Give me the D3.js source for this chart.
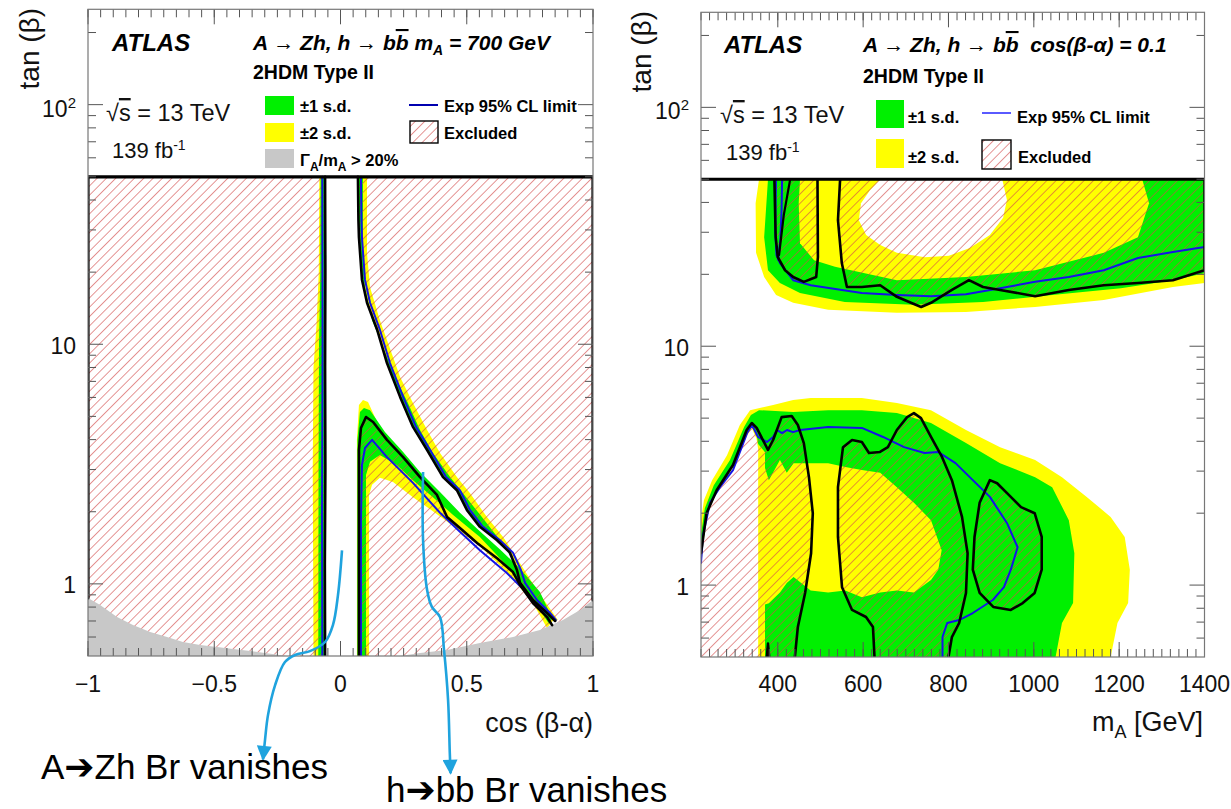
<!DOCTYPE html>
<html>
<head>
<meta charset="utf-8">
<script src="https://cdn.jsdelivr.net/npm/d3@7"></script>
<style>
  body { margin: 0; background: #fff; }
</style>
</head>
<body>
<script>
var svgWidth = 1231;
var svgHeight = 809;

// Axis ticks
var cosTicks = [-1, -0.5, 0, 0.5, 1];
var cosTickLabels = ["\u22121", "\u22120.5", "0", "0.5", "1"];
var massTicks = [400, 600, 800, 1000, 1200, 1400];
var massTickLabels = ["400", "600", "800", "1000", "1200", "1400"];
var tanTicks = [1, 10, 100];
var tanTickLabels = ["1", "10", "10^2"];
var tanMinorTicks = [0.6, 0.7, 0.8, 0.9, 2, 3, 4, 5, 6, 7, 8, 9, 20, 30, 40, 50, 60, 70, 80, 90, 200];

// ===== Left panel: [cos(beta-alpha), tan(beta)], mA = 700 GeV =====
var chanObs = [[-0.061, 0.5], [-0.062, 1.2], [-0.060, 3], [-0.061, 8], [-0.060, 20], [-0.061, 50]];
var chanExp = [[-0.072, 0.5], [-0.073, 2], [-0.071, 10], [-0.072, 50]];
var chanYellow = [[-0.084, 50], [-0.086, 20], [-0.095, 12], [-0.107, 8], [-0.110, 3], [-0.108, 1], [-0.107, 0.5], [-0.060, 0.5], [-0.060, 50]];
var chanGreen = [[-0.079, 50], [-0.080, 20], [-0.085, 10], [-0.087, 3], [-0.088, 0.5], [-0.060, 0.5], [-0.060, 50]];

var upperObs = [[0.069, 50], [0.071, 33.0], [0.073, 28.0], [0.085, 18.6], [0.105, 14.9], [0.145, 11.5], [0.184, 8.35], [0.236, 6.03], [0.287, 4.52], [0.343, 3.62], [0.406, 2.79], [0.461, 2.46], [0.501, 2.03], [0.552, 1.73], [0.620, 1.52], [0.671, 1.35], [0.699, 1.14], [0.711, 1.01], [0.762, 0.856], [0.818, 0.756], [0.850, 0.70]];
var upperExp = [[0.081, 50], [0.083, 33], [0.085, 28], [0.097, 18.6], [0.117, 14.9], [0.156, 11.5], [0.196, 8.35], [0.248, 6.03], [0.299, 4.52], [0.355, 3.62], [0.418, 2.79], [0.473, 2.46], [0.513, 2.03], [0.564, 1.73], [0.632, 1.52], [0.683, 1.35], [0.715, 1.14], [0.731, 1.01], [0.778, 0.856], [0.830, 0.756], [0.853, 0.707]];
var upperYellowEdge = [[0.105, 50], [0.105, 24.0], [0.117, 17.3], [0.156, 12.6], [0.208, 8.85], [0.236, 7.3], [0.287, 5.69], [0.343, 4.39], [0.394, 3.52], [0.461, 2.79], [0.513, 2.39], [0.580, 1.90], [0.644, 1.57], [0.711, 1.22], [0.778, 0.943], [0.861, 0.707]];
var upperGreenEdge = [[0.089, 50], [0.089, 24.0], [0.097, 17.3], [0.125, 12.6], [0.184, 8.85], [0.216, 7.3], [0.267, 5.69], [0.315, 4.39], [0.366, 3.52], [0.434, 2.79], [0.485, 2.39], [0.560, 1.90], [0.632, 1.52], [0.691, 1.22], [0.758, 0.943], [0.842, 0.707]];

var lambdaObs = [[0.073, 0.5], [0.073, 1.52], [0.073, 3.62], [0.081, 4.47], [0.101, 4.97], [0.129, 4.74], [0.184, 3.99], [0.248, 3.38], [0.315, 2.79], [0.382, 2.35], [0.422, 1.90], [0.473, 1.71], [0.541, 1.48], [0.620, 1.28], [0.683, 1.12], [0.711, 0.99], [0.762, 0.832], [0.818, 0.727], [0.838, 0.673]];
var lambdaExp = [[0.081, 0.5], [0.081, 1.85], [0.085, 3.13], [0.097, 3.69], [0.125, 3.99], [0.184, 3.38], [0.287, 2.64], [0.394, 1.98], [0.473, 1.65], [0.552, 1.38], [0.659, 1.11], [0.739, 0.916], [0.818, 0.727]];
var lambdaYellow = [[0.065, 0.5], [0.065, 3.99], [0.073, 5.58], [0.089, 5.85], [0.109, 5.74], [0.156, 4.47], [0.236, 3.45], [0.315, 2.77], [0.394, 2.28], [0.473, 1.88], [0.552, 1.58], [0.632, 1.35], [0.711, 1.12], [0.790, 0.898], [0.850, 0.721], [0.818, 0.654], [0.762, 0.832], [0.659, 1.12], [0.552, 1.44], [0.446, 1.744], [0.355, 2.05], [0.287, 2.30], [0.208, 2.66], [0.156, 2.77], [0.125, 2.59], [0.113, 2.35], [0.113, 0.5]];
var lambdaGreen = [[0.067, 0.5], [0.067, 3.99], [0.077, 5.21], [0.093, 5.42], [0.117, 5.31], [0.176, 4.30], [0.248, 3.55], [0.315, 2.93], [0.394, 2.42], [0.473, 1.98], [0.552, 1.66], [0.632, 1.39], [0.711, 1.16], [0.790, 0.925], [0.838, 0.721], [0.826, 0.680], [0.762, 0.864], [0.659, 1.19], [0.552, 1.57], [0.446, 1.94], [0.366, 2.30], [0.287, 2.71], [0.224, 3.13], [0.156, 3.45], [0.117, 3.23], [0.101, 2.85], [0.101, 0.5]];

var widthLimitLeft = [[-1, 0.873], [-0.952, 0.816], [-0.885, 0.727], [-0.822, 0.673], [-0.754, 0.630], [-0.687, 0.600], [-0.624, 0.572], [-0.556, 0.556], [-0.489, 0.545], [-0.426, 0.535], [-0.358, 0.525], [-0.212, 0.5]];
var widthLimitRight = [[0.236, 0.5], [0.315, 0.515], [0.422, 0.530], [0.552, 0.567], [0.683, 0.600], [0.790, 0.642], [0.881, 0.707], [0.949, 0.778], [1, 0.857]];
var edgeObsLeft = [[-1, 0.873], [-1, 50], [1, 50], [1, 0.857]];

// annotation arrows (in left panel coordinates)
var arrowAZh = [[0.006, 1.38], [-0.010, 0.898], [-0.030, 0.673], [-0.061, 0.572], [-0.121, 0.524], [-0.180, 0.505], [-0.220, 0.472], [-0.259, 0.378], [-0.287, 0.284], [-0.299, 0.223], [-0.307, 0.185]];
var arrowHbb = [[0.327, 2.93], [0.327, 1.52], [0.343, 0.943], [0.362, 0.801], [0.394, 0.727], [0.410, 0.529], [0.426, 0.328], [0.433, 0.195], [0.436, 0.162]];

// ===== Right panel: [mA (GeV), tan(beta)], cos(beta-alpha) = 0.1 =====
var upYellow = [[356, 50], [348, 39.7], [349, 24.6], [368, 19.5], [396, 16.4], [436, 15.2], [518, 14.2], [679, 13.8], [841, 13.9], [1003, 14.6], [1164, 15.6], [1326, 17.7], [1400, 18.4], [1400, 50]];
var upGreen = [[377, 50], [368, 28.6], [377, 20.8], [405, 18.4], [452, 16.7], [557, 15.3], [719, 14.9], [881, 15.3], [1043, 16.4], [1204, 17.5], [1326, 18.9], [1400, 20.2], [1400, 50]];
var upInnerYellow = [[452, 50], [449, 39.7], [452, 27], [485, 22.9], [534, 21.5], [679, 18.9], [841, 19.5], [1003, 20.8], [1164, 24.6], [1244, 28.6], [1270, 39.7], [1254, 50]];
var upHole = [[640, 50], [616, 45], [595, 39.7], [590, 33.7], [607, 29.2], [640, 26.5], [679, 24.6], [745, 23.6], [801, 23.9], [850, 25.8], [897, 29.2], [928, 34.5], [937, 40.9], [926, 50]];
var upExp = [[396, 50], [395, 40], [394, 30], [397, 24], [405, 22.3], [436, 18.9], [477, 18.0], [597, 16.7], [679, 16.4], [759, 16.2], [841, 16.5], [921, 17.5], [1003, 18.6], [1082, 19.5], [1164, 20.8], [1244, 23.4], [1326, 24.8], [1400, 26.0]];
var upExpLoop = [[410, 50], [409, 38], [406, 28], [401, 23]];
var upObsA = [[392, 50], [395, 28.6], [400, 23.6], [417, 20.8], [436, 19.5], [461, 18.6], [490, 19.5], [494, 23.6], [493, 50]];
var upObsB = [[429, 50], [414, 35.4], [403, 24.1]];
var upObsC = [[546, 50], [541, 33.7], [550, 22.3], [562, 17.7], [597, 17.7], [640, 18.0], [679, 16.1], [712, 15.2], [736, 14.6], [759, 15.2], [808, 17.2], [848, 18.9], [881, 17.7], [921, 17.2], [1003, 16.2], [1082, 17.2], [1164, 18.0], [1244, 18.4], [1326, 18.9], [1400, 20.8], [1400, 50]];

var lowYellow = [[220, 1.87], [227, 2.27], [246, 2.75], [281, 3.50], [311, 4.68], [335, 5.4], [389, 5.67], [436, 5.95], [477, 6.07], [597, 6.07], [679, 5.78], [759, 5.4], [841, 4.46], [921, 3.78], [1003, 3.34], [1066, 2.83], [1124, 2.34], [1180, 1.93], [1213, 1.59], [1225, 1.16], [1221, 0.841], [1196, 0.694], [1180, 0.5], [354, 0.5], [354, 3.7], [350, 4.1], [339, 4.55], [327, 4.2], [295, 3.1], [257, 2.45], [233, 1.95], [220, 1.2]];
var lowGreen = [[220, 1.62], [229, 2.1], [250, 2.62], [288, 3.34], [321, 4.59], [337, 5.15], [356, 5.4], [436, 5.3], [518, 5.4], [597, 5.4], [679, 5.25], [759, 4.77], [841, 3.93], [921, 3.24], [1003, 2.83], [1043, 2.57], [1082, 1.87], [1095, 1.36], [1092, 0.841], [1066, 0.694], [1051, 0.5], [370, 0.5], [370, 3.6], [354, 3.9], [350, 4.3], [339, 4.65], [327, 4.3], [295, 3.2], [257, 2.5], [233, 2.0], [220, 1.35]];
var lowInnerYellow = [[370, 0.83], [379, 0.84], [405, 0.93], [421, 1.02], [437, 1.08], [477, 0.95], [518, 0.93], [558, 0.95], [597, 0.89], [640, 0.93], [679, 0.95], [719, 0.93], [759, 1.05], [776, 1.16], [784, 1.40], [759, 1.87], [719, 2.21], [679, 2.57], [640, 2.95], [597, 3.03], [558, 3.12], [518, 3.24], [477, 3.24], [437, 3.24], [421, 2.95], [405, 3.34], [379, 2.75], [370, 3.09]];
var lowExp = [[220, 1.24], [225, 1.62], [241, 2.21], [264.5, 2.57], [295, 3.03], [328, 4.33], [339.5, 4.68], [353.6, 4.17], [374.7, 3.97], [389, 4.17], [398, 4.46], [410, 4.33], [421.6, 4.46], [435.6, 4.37], [452, 4.46], [518, 4.59], [597, 4.55], [646.6, 4.17], [696, 3.78], [744, 3.57], [775.5, 3.61], [816.5, 3.24], [857, 2.75], [897, 2.34], [937, 1.82], [962, 1.44], [946, 1.16], [930, 0.98], [904, 0.866], [857, 0.764], [825, 0.714], [797, 0.694], [786, 0.606], [786, 0.5]];
var lowObsL1 = [[220, 1.36], [233, 2.0], [257, 2.5], [295, 3.18], [327, 4.46], [339, 4.77], [350.5, 4.55], [377, 3.68], [389, 4.05], [409, 5.05], [432.6, 5.1], [447, 4.68], [461, 3.93], [473, 2.83], [482, 2.0], [478, 1.36], [464, 0.927], [447, 0.668], [440, 0.5]];
var lowObsL2 = [[626.6, 0.5], [623, 0.668], [606.7, 0.735], [574, 0.787], [550.5, 0.98], [541, 1.59], [541, 2.57], [552.8, 3.78], [574, 4.05], [597, 3.97], [613.7, 3.57], [639.5, 3.61], [658, 3.78], [679, 4.46], [703, 5.05], [719, 5.25], [735.6, 5.0], [759, 4.17], [784.8, 3.44], [808, 2.75], [831.7, 1.93], [844.8, 1.36], [841, 0.927], [825, 0.694], [808, 0.606], [800, 0.5]];
var lowObsL3 = [[897, 2.75], [873, 2.21], [861, 1.59], [857, 1.16], [873, 0.927], [905, 0.81], [946, 0.787], [974, 0.841], [1002, 0.927], [1018.5, 1.16], [1018.5, 1.59], [1002, 2.0], [970, 2.12], [946, 2.34], [914, 2.67]];
var lowObsSpike = [[374, 0.5], [377, 0.57], [380, 0.5]];

var YELLOW = "#ffff00", GREEN = "#00f000", GRAY = "#c8c8c8", BLUE = "#1414e6", BLACK = "#000";

var svg = d3.select("body").append("svg")
  .attr("width", svgWidth)
  .attr("height", svgHeight)
  .style("font-family", "'Liberation Sans', Arial, Helvetica, sans-serif");

var defs = svg.append("defs");

// red hatching used for the excluded regions
defs.append("pattern")
  .attr("id", "hatch")
  .attr("patternUnits", "userSpaceOnUse")
  .attr("width", 6.6)
  .attr("height", 6.6)
  .attr("patternTransform", "rotate(45)")
  .append("line")
  .attr("x1", 3.3).attr("y1", 0).attr("x2", 3.3).attr("y2", 6.6)
  .attr("stroke", "#d24a4a")
  .attr("stroke-opacity", 0.65)
  .attr("stroke-width", 0.9);

defs.append("marker")
  .attr("id", "head")
  .attr("viewBox", "0 0 10 10")
  .attr("refX", 9).attr("refY", 5)
  .attr("markerUnits", "userSpaceOnUse")
  .attr("markerWidth", 17).attr("markerHeight", 15)
  .attr("orient", "auto")
  .append("path")
  .attr("d", "M0,0 L10,5 L0,10 Z")
  .attr("fill", "#1fa3de");

// Scales
var xL = d3.scaleLinear().domain([-1, 1]).range([88, 593]);
var yL = d3.scaleLog().domain([0.5, 250]).range([656, 9.3]);
var xR = d3.scaleLinear().domain([220, 1400]).range([701, 1204.5]);
var yR = d3.scaleLog().domain([0.5, 250]).range([657, 12.3]);

function lineGen(x, y, c) {
  var l = d3.line().x(d => x(d[0])).y(d => y(d[1]));
  if (c) l.curve(c);
  return l;
}
function area(g, pts, x, y, color) {
  g.append("path").attr("d", lineGen(x, y)(pts) + "Z").attr("fill", color);
}
function curve(g, pts, x, y, color, w, closed) {
  g.append("path")
    .attr("d", lineGen(x, y)(pts) + (closed ? "Z" : ""))
    .attr("fill", "none")
    .attr("stroke", color)
    .attr("stroke-width", w)
    .attr("stroke-linejoin", "round")
    .attr("stroke-linecap", "round");
}
function clipFor(id, x, y) {
  defs.append("clipPath").attr("id", id).append("rect")
    .attr("x", x.range()[0]).attr("y", y.range()[1])
    .attr("width", x.range()[1] - x.range()[0])
    .attr("height", y.range()[0] - y.range()[1]);
}

// frame with inward ticks on all four sides
function frame(g, x, y, xMajor, xMinor) {
  var x0 = x.range()[0], x1 = x.range()[1], yb = y.range()[0], yt = y.range()[1];
  var t = g.append("g").attr("stroke", "#555").attr("stroke-width", 1);
  function tick(a, b, c, d) { t.append("line").attr("x1", a).attr("y1", b).attr("x2", c).attr("y2", d); }
  xMinor.forEach(function(v) { tick(x(v), yb, x(v), yb - 8); tick(x(v), yt, x(v), yt + 8); });
  xMajor.forEach(function(v) { tick(x(v), yb, x(v), yb - 15); tick(x(v), yt, x(v), yt + 15); });
  tanMinorTicks.forEach(function(v) { tick(x0, y(v), x0 + 8, y(v)); tick(x1, y(v), x1 - 8, y(v)); });
  tanTicks.forEach(function(v) { tick(x0, y(v), x0 + 15, y(v)); tick(x1, y(v), x1 - 15, y(v)); });
  g.append("rect")
    .attr("x", x0).attr("y", yt)
    .attr("width", x1 - x0).attr("height", yb - yt)
    .attr("fill", "none").attr("stroke", "#777").attr("stroke-width", 1.2);
}

function yLabels(g, y, xPos, offs) {
  tanTicks.forEach(function(v, i) {
    var lab = tanTickLabels[i];
    var txt = g.append("text")
      .attr("x", xPos).attr("y", y(v) + offs[i])
      .attr("text-anchor", "end")
      .attr("font-size", 23).attr("fill", "#111");
    if (lab.indexOf("^") >= 0) {
      var p = lab.split("^");
      txt.append("tspan").text(p[0]);
      txt.append("tspan").attr("dy", -9).attr("font-size", 15).text(p[1]);
    } else {
      txt.text(lab);
    }
  });
}

// ============ Left panel ============
clipFor("clipL", xL, yL);
var gL = svg.append("g");
var plotL = gL.append("g").attr("clip-path", "url(#clipL)");

// Step 1: expected +-2 and +-1 sigma bands
area(plotL, chanYellow, xL, yL, YELLOW);
area(plotL, upperYellowEdge.concat(upperObs.slice().reverse()), xL, yL, YELLOW);
area(plotL, lambdaYellow, xL, yL, YELLOW);
area(plotL, chanGreen, xL, yL, GREEN);
area(plotL, upperGreenEdge.concat(upperObs.slice().reverse()), xL, yL, GREEN);
area(plotL, lambdaGreen, xL, yL, GREEN);

// Step 2: hatched excluded region = box minus the allowed channel/wedge
var allowed = chanObs
  .concat(upperObs.filter(d => d[0] <= 0.711))
  .concat(lambdaObs.filter(d => d[0] <= 0.711).reverse());
var boxL = [[-1, 0.5], [-1, 50], [1, 50], [1, 0.5]];
plotL.append("path")
  .attr("d", lineGen(xL, yL)(boxL) + "Z" + lineGen(xL, yL)(allowed) + "Z")
  .attr("fill", "url(#hatch)")
  .attr("fill-rule", "evenodd");

// Step 3: width limit region
area(plotL, [[-1, 0.5]].concat(widthLimitLeft, widthLimitRight, [[1, 0.5]]), xL, yL, GRAY);

// Step 4: expected and observed contours
curve(plotL, chanExp, xL, yL, BLUE, 2);
curve(plotL, upperExp, xL, yL, BLUE, 2);
curve(plotL, lambdaExp, xL, yL, BLUE, 2);
curve(plotL, chanObs, xL, yL, BLACK, 2.6);
curve(plotL, upperObs, xL, yL, BLACK, 2.6);
curve(plotL, lambdaObs, xL, yL, BLACK, 2.6);
curve(plotL, edgeObsLeft, xL, yL, BLACK, 3.2);

frame(gL, xL, yL, cosTicks, d3.range(0, 41).map(i => -1 + i * 0.05));

cosTicks.forEach(function(v, i) {
  gL.append("text").attr("x", xL(v)).attr("y", 692)
    .attr("text-anchor", "middle").attr("font-size", 23).attr("fill", "#111")
    .text(cosTickLabels[i]);
});
yLabels(gL, yL, 76, [9, 10, 12]);

gL.append("text").attr("x", 593).attr("y", 732).attr("text-anchor", "end")
  .attr("font-size", 27).attr("fill", "#111").text("cos (\u03b2-\u03b1)");
gL.append("text").attr("transform", "translate(39,8) rotate(-90)").attr("text-anchor", "end")
  .attr("font-size", 28).attr("fill", "#111").text("tan (\u03b2)");

// ============ Right panel ============
clipFor("clipR", xR, yR);
var gR = svg.append("g");
var plotR = gR.append("g").attr("clip-path", "url(#clipR)");

area(plotR, lowYellow, xR, yR, YELLOW);
area(plotR, lowGreen, xR, yR, GREEN);
area(plotR, lowInnerYellow, xR, yR, YELLOW);
area(plotR, upYellow, xR, yR, YELLOW);
area(plotR, upGreen, xR, yR, GREEN);
area(plotR, upInnerYellow, xR, yR, YELLOW);
area(plotR, upHole, xR, yR, "#fff");

var hatchR = [upObsA, upObsC, [[220, 0.5]].concat(lowObsL1), lowObsL2, lowObsL3];
plotR.append("path")
  .attr("d", hatchR.map(p => lineGen(xR, yR)(p) + "Z").join(""))
  .attr("fill", "url(#hatch)");

curve(plotR, upExp, xR, yR, BLUE, 2);
curve(plotR, upExpLoop, xR, yR, BLUE, 2);
curve(plotR, lowExp, xR, yR, BLUE, 2);
curve(plotR, upObsA, xR, yR, BLACK, 2.6);
curve(plotR, upObsB, xR, yR, BLACK, 2.2);
curve(plotR, upObsC, xR, yR, BLACK, 2.6);
curve(plotR, lowObsL1, xR, yR, BLACK, 2.6);
curve(plotR, lowObsL2, xR, yR, BLACK, 2.6);
curve(plotR, lowObsL3, xR, yR, BLACK, 2.6, true);
curve(plotR, lowObsSpike, xR, yR, BLACK, 2.4);
curve(plotR, [[220, 50], [1400, 50]], xR, yR, BLACK, 3.2);

frame(gR, xR, yR, massTicks, d3.range(220, 1401, 20));

massTicks.forEach(function(v, i) {
  gR.append("text").attr("x", xR(v)).attr("y", 692)
    .attr("text-anchor", "middle").attr("font-size", 23).attr("fill", "#111")
    .text(massTickLabels[i]);
});
yLabels(gR, yR, 689, [10, 10, 12]);

var mLab = gR.append("text").attr("x", 1203).attr("y", 731).attr("text-anchor", "end")
  .attr("font-size", 27).attr("fill", "#111");
mLab.append("tspan").text("m");
mLab.append("tspan").attr("dy", 7).attr("font-size", 18).text("A");
mLab.append("tspan").attr("dy", -7).text(" [GeV]");
gR.append("text").attr("transform", "translate(651,11) rotate(-90)").attr("text-anchor", "end")
  .attr("font-size", 28).attr("fill", "#111").text("tan (\u03b2)");

// ============ Labels and legends ============
function atlasBlock(g, x0, y0, x1) {
  g.append("text").attr("x", x0).attr("y", y0).attr("font-size", 24)
    .attr("font-weight", "bold").attr("font-style", "italic").text("ATLAS");
  var s = g.append("text").attr("x", x1).attr("y", y0 + 70).attr("font-size", 23.5).attr("fill", "#111");
  s.append("tspan").text("\u221a");
  s.append("tspan").style("text-decoration", "overline").text("s");
  s.append("tspan").text(" = 13 TeV");
  var l = g.append("text").attr("x", x1 + 6).attr("y", y0 + 107).attr("font-size", 22).attr("fill", "#111");
  l.append("tspan").text("139 fb");
  l.append("tspan").attr("dy", -8).attr("font-size", 14).text("-1");
}
function title(g, x, y, tail) {
  var t = g.append("text").attr("x", x).attr("y", y).attr("font-size", 21)
    .attr("font-weight", "bold").attr("font-style", "italic");
  t.append("tspan").text("A \u2192 Zh, h \u2192 b");
  t.append("tspan").style("text-decoration", "overline").text("b");
  tail(t);
}
function legText(g, x, y, str) {
  return g.append("text").attr("x", x).attr("y", y).attr("font-size", 16.5).attr("font-weight", "bold").text(str);
}

// left
atlasBlock(gL, 112, 51, 106);
title(gL, 253, 50, function(t) {
  t.append("tspan").text(" m");
  t.append("tspan").attr("dy", 5).attr("font-size", 14).text("A");
  t.append("tspan").attr("dy", -5).text(" = 700 GeV");
});
gL.append("text").attr("x", 253).attr("y", 79).attr("font-size", 19.5).attr("font-weight", "bold").text("2HDM Type II");
gL.append("rect").attr("x", 265).attr("y", 96).attr("width", 29).attr("height", 19).attr("fill", GREEN);
gL.append("rect").attr("x", 265).attr("y", 123).attr("width", 29).attr("height", 19).attr("fill", YELLOW);
gL.append("rect").attr("x", 265).attr("y", 149).attr("width", 29).attr("height", 19).attr("fill", GRAY);
legText(gL, 300, 112, "\u00b11 s.d.");
legText(gL, 300, 139, "\u00b12 s.d.");
var gam = legText(gL, 300, 166, "\u0393");
gam.append("tspan").attr("dy", 5).attr("font-size", 12).text("A");
gam.append("tspan").attr("dy", -5).text("/m");
gam.append("tspan").attr("dy", 5).attr("font-size", 12).text("A");
gam.append("tspan").attr("dy", -5).text(" > 20%");
gL.append("line").attr("x1", 409).attr("x2", 438).attr("y1", 105).attr("y2", 105).attr("stroke", "#0000b0").attr("stroke-width", 2);
legText(gL, 444, 112, "Exp 95% CL limit");
gL.append("rect").attr("x", 410).attr("y", 121).attr("width", 28).attr("height", 22)
  .attr("fill", "url(#hatch)").attr("stroke", "#000").attr("stroke-width", 1.4);
legText(gL, 444, 139, "Excluded");

// right
atlasBlock(gR, 724, 53, 720);
title(gR, 863, 52, function(t) {
  t.append("tspan").text("\u00a0 cos(\u03b2-\u03b1) = 0.1");
});
gR.append("text").attr("x", 863).attr("y", 83).attr("font-size", 19.5).attr("font-weight", "bold").text("2HDM Type II");
gR.append("rect").attr("x", 876).attr("y", 100).attr("width", 28).attr("height", 28).attr("fill", GREEN);
gR.append("rect").attr("x", 876).attr("y", 139).attr("width", 28).attr("height", 29).attr("fill", YELLOW);
legText(gR, 908, 123, "\u00b11 s.d.");
legText(gR, 908, 163, "\u00b12 s.d.");
gR.append("line").attr("x1", 982).attr("x2", 1011).attr("y1", 113).attr("y2", 113).attr("stroke", "#5a5aff").attr("stroke-width", 2);
legText(gR, 1017, 123, "Exp 95% CL limit");
gR.append("rect").attr("x", 982).attr("y", 140).attr("width", 29).attr("height", 29)
  .attr("fill", "url(#hatch)").attr("stroke", "#000").attr("stroke-width", 1.4);
legText(gR, 1018, 163, "Excluded");

// ============ Annotations ============
var gA = svg.append("g");
[arrowAZh, arrowHbb].forEach(function(pts) {
  gA.append("path")
    .attr("d", lineGen(xL, yL, d3.curveCatmullRom)(pts))
    .attr("fill", "none")
    .attr("stroke", "#1fa3de")
    .attr("stroke-width", 2.6)
    .attr("marker-end", "url(#head)");
});
function note(x, y, a, b) {
  var t = gA.append("text").attr("x", x).attr("y", y).attr("font-size", 35).attr("fill", "#000");
  t.append("tspan").text(a);
  t.append("tspan").style("font-family", "'DejaVu Sans'").attr("font-size", 36).text("\u2794");
  t.append("tspan").text(b);
}
note(41, 779, "A", "Zh Br vanishes");
note(386, 802, "h", "bb Br vanishes");
</script>
</body>
</html>
